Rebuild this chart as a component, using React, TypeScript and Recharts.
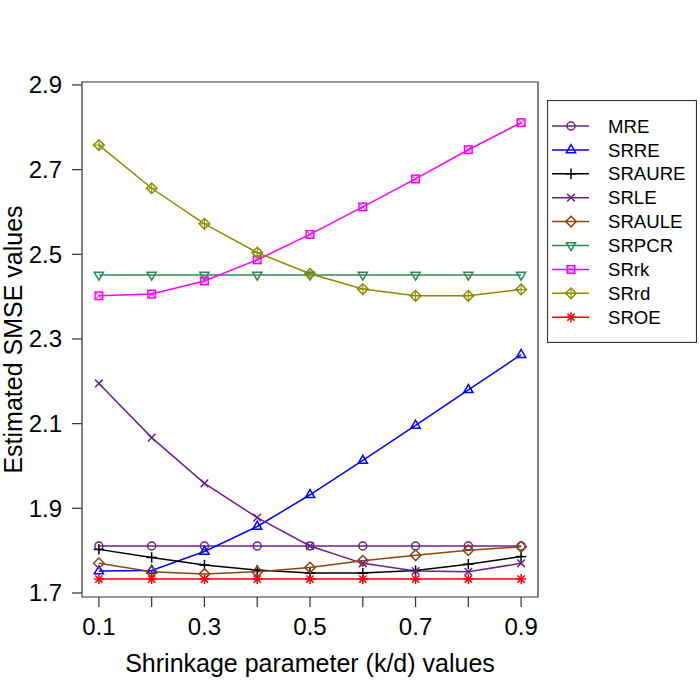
import React from 'react';
import { LineChart, Line, XAxis, YAxis, ReferenceArea, Legend, Label } from 'recharts';

const kValues = [0.1, 0.2, 0.3, 0.4, 0.5, 0.6, 0.7, 0.8, 0.9];
const xTicks = [0.1, 0.2, 0.3, 0.4, 0.5, 0.6, 0.7, 0.8, 0.9];
const xTickLabels = ['0.1', '', '0.3', '', '0.5', '', '0.7', '', '0.9'];
const yTicks = [1.7, 1.9, 2.1, 2.3, 2.5, 2.7, 2.9];
const yTickLabels = ['1.7', '1.9', '2.1', '2.3', '2.5', '2.7', '2.9'];

const MRE = [1.811, 1.811, 1.811, 1.811, 1.811, 1.811, 1.811, 1.811, 1.811];
const SRRE = [1.752, 1.753, 1.798, 1.857, 1.932, 2.013, 2.096, 2.18, 2.263];
const SRAURE = [1.803, 1.784, 1.766, 1.754, 1.747, 1.747, 1.753, 1.768, 1.786];
const SRLE = [2.195, 2.067, 1.959, 1.878, 1.811, 1.77, 1.752, 1.75, 1.77];
const SRAULE = [1.77, 1.75, 1.745, 1.75, 1.76, 1.776, 1.789, 1.801, 1.809];
const SRPCR = [2.451, 2.451, 2.451, 2.451, 2.451, 2.451, 2.451, 2.451, 2.451];
const SRrk = [2.402, 2.406, 2.437, 2.487, 2.547, 2.612, 2.678, 2.747, 2.811];
const SRrd = [2.758, 2.656, 2.572, 2.504, 2.454, 2.418, 2.402, 2.402, 2.417];
const SROE = [1.733, 1.733, 1.733, 1.733, 1.733, 1.733, 1.733, 1.733, 1.733];

const seriesNames = ['MRE', 'SRRE', 'SRAURE', 'SRLE', 'SRAULE', 'SRPCR', 'SRrk', 'SRrd', 'SROE'];
const seriesValues = [MRE, SRRE, SRAURE, SRLE, SRAULE, SRPCR, SRrk, SRrd, SROE];
const seriesColors = ['#68228B', '#0000FF', '#000000', '#68228B', '#8B4513', '#2E8B57', '#FF00FF', '#8B8B00', '#FF0000'];
const seriesShapes = ['circle', 'triUp', 'plus', 'cross', 'diamond', 'triDown', 'squareX', 'diamondPlus', 'star'];

const data = kValues.map((k, i) => {
  const row: any = { k };
  seriesNames.forEach((n, j) => {
    row[n] = seriesValues[j][i];
  });
  return row;
});

const FONT = '"Liberation Sans", Arial, Helvetica, sans-serif';
const SW = 1.5;

function Marker({ shape, cx, cy, color }: { shape: string; cx: number; cy: number; color: string }) {
  if (cx == null || cy == null || isNaN(cx) || isNaN(cy)) return null;
  const p = { stroke: color, strokeWidth: SW, fill: 'none' };
  switch (shape) {
    case 'circle':
      return <circle cx={cx} cy={cy} r={4} {...p} />;
    case 'triUp':
      return <polygon points={`${cx},${cy - 5.2} ${cx - 4.6},${cy + 2.8} ${cx + 4.6},${cy + 2.8}`} {...p} />;
    case 'triDown':
      return <polygon points={`${cx},${cy + 5.2} ${cx - 4.6},${cy - 2.8} ${cx + 4.6},${cy - 2.8}`} {...p} />;
    case 'plus':
      return (
        <g {...p}>
          <line x1={cx - 5.2} y1={cy} x2={cx + 5.2} y2={cy} />
          <line x1={cx} y1={cy - 5.2} x2={cx} y2={cy + 5.2} />
        </g>
      );
    case 'cross':
      return (
        <g {...p}>
          <line x1={cx - 3.8} y1={cy - 3.8} x2={cx + 3.8} y2={cy + 3.8} />
          <line x1={cx - 3.8} y1={cy + 3.8} x2={cx + 3.8} y2={cy - 3.8} />
        </g>
      );
    case 'diamond':
      return <polygon points={`${cx},${cy - 5.3} ${cx + 5.3},${cy} ${cx},${cy + 5.3} ${cx - 5.3},${cy}`} {...p} />;
    case 'squareX':
      return (
        <g {...p}>
          <rect x={cx - 3.8} y={cy - 3.8} width={7.6} height={7.6} />
          <line x1={cx - 3.8} y1={cy - 3.8} x2={cx + 3.8} y2={cy + 3.8} strokeWidth={1} />
          <line x1={cx - 3.8} y1={cy + 3.8} x2={cx + 3.8} y2={cy - 3.8} strokeWidth={1} />
        </g>
      );
    case 'diamondPlus':
      return (
        <g {...p}>
          <polygon points={`${cx},${cy - 5.3} ${cx + 5.3},${cy} ${cx},${cy + 5.3} ${cx - 5.3},${cy}`} />
          <line x1={cx - 5.3} y1={cy} x2={cx + 5.3} y2={cy} strokeWidth={1} />
          <line x1={cx} y1={cy - 5.3} x2={cx} y2={cy + 5.3} strokeWidth={1} />
        </g>
      );
    case 'star':
      return (
        <g {...p}>
          <line x1={cx - 5} y1={cy} x2={cx + 5} y2={cy} />
          <line x1={cx} y1={cy - 5} x2={cx} y2={cy + 5} />
          <line x1={cx - 3.6} y1={cy - 3.6} x2={cx + 3.6} y2={cy + 3.6} />
          <line x1={cx - 3.6} y1={cy + 3.6} x2={cx + 3.6} y2={cy - 3.6} />
        </g>
      );
    default:
      return null;
  }
}

function LegendBox() {
  const rowH = 23.9;
  return (
    <svg width={150} height={243} style={{ display: 'block' }}>
      <rect x={0.5} y={0.5} width={149} height={242} fill="#fff" stroke="#333" strokeWidth={1.2} />
      {seriesNames.map((n, i) => {
        const y = 26 + i * rowH;
        return (
          <g key={n}>
            <line x1={5} y1={y} x2={42} y2={y} stroke={seriesColors[i]} strokeWidth={SW} />
            <Marker shape={seriesShapes[i]} cx={24} cy={y} color={seriesColors[i]} />
            <text x={61} y={y + 6.6} fontSize={18.6} fontFamily={FONT} fill="#000">
              {n}
            </text>
          </g>
        );
      })}
    </svg>
  );
}

export default function App() {
  return (
    <div style={{ position: 'absolute', left: 0, top: 0, width: 700, height: 700, background: '#fff' }}>
      <LineChart
        width={700}
        height={700}
        data={data}
        margin={{ top: 82, right: 162, bottom: 43, left: 10 }}
      >
        <XAxis
          dataKey="k"
          type="number"
          domain={[0.068, 0.932]}
          ticks={xTicks}
          tickFormatter={(v: number) => xTickLabels[xTicks.findIndex((t) => Math.abs(t - v) < 1e-9)] ?? ''}
          axisLine={false}
          tickLine={{ stroke: '#333', strokeWidth: 1.2 }}
          tickSize={10}
          tickMargin={11}
          height={60}
          tick={{ fontSize: 24, fontFamily: FONT, fill: '#000' }}
          allowDataOverflow
        >
          <Label
            content={() => (
              <text x={310} y={672} textAnchor="middle" fontSize={25} fontFamily={FONT} fill="#000">
                Shrinkage parameter (k/d) values
              </text>
            )}
          />
        </XAxis>
        <YAxis
          type="number"
          domain={[1.6905, 2.907]}
          ticks={yTicks}
          tickFormatter={(v: number) => yTickLabels[yTicks.findIndex((t) => Math.abs(t - v) < 1e-9)] ?? ''}
          axisLine={false}
          tickLine={{ stroke: '#333', strokeWidth: 1.2 }}
          tickSize={10}
          tickMargin={10}
          width={72}
          tick={{ fontSize: 24, fontFamily: FONT, fill: '#000' }}
          allowDataOverflow
        >
          <Label
            content={() => (
              <text
                x={22}
                y={339.5}
                transform="rotate(-90 22 339.5)"
                textAnchor="middle"
                fontSize={25}
                fontFamily={FONT}
                fill="#000"
              >
                Estimated SMSE values
              </text>
            )}
          />
        </YAxis>
        {seriesNames.map((n, i) => (
          <Line
            key={n}
            dataKey={n}
            stroke={seriesColors[i]}
            strokeWidth={SW}
            isAnimationActive={false}
            dot={(props: any) => (
              <Marker key={`${n}-${props.index}`} shape={seriesShapes[i]} cx={props.cx} cy={props.cy} color={seriesColors[i]} />
            )}
            activeDot={false}
          />
        ))}
        <ReferenceArea
          x1={0.068}
          x2={0.932}
          y1={1.6905}
          y2={2.907}
          fill="none"
          fillOpacity={0}
          stroke="#333"
          strokeWidth={1.2}
          ifOverflow="visible"
        />
        <Legend
          layout="vertical"
          align="center"
          verticalAlign="middle"
          wrapperStyle={{ position: 'absolute', left: 547, top: 100, width: 150, height: 243, bottom: 'auto', right: 'auto', margin: 0 }}
          content={() => <LegendBox />}
        />
      </LineChart>
    </div>
  );
}
